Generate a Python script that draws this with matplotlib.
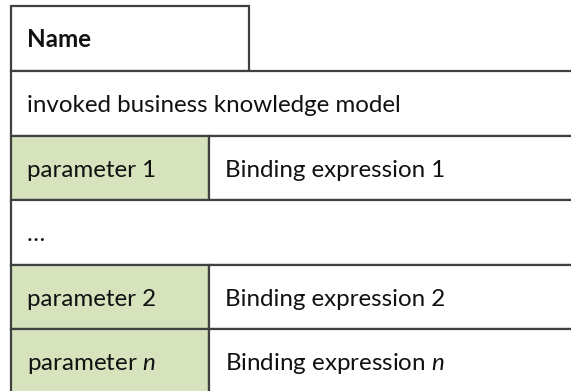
import matplotlib
matplotlib.use("Agg")
import matplotlib.pyplot as plt
from matplotlib.patches import Rectangle

header = "Name"
invoked = "invoked business knowledge model"
params = ["parameter 1", None, "parameter 2", "parameter $\\mathit{n}$"]
bindings = ["Binding expression 1", "…", "Binding expression 2", "Binding expression $\\mathit{n}$"]

plt.rcParams["mathtext.fontset"] = "custom"
plt.rcParams["mathtext.it"] = "Lato:italic"
plt.rcParams["mathtext.rm"] = "Lato"

W, H = 571, 391
fig = plt.figure(figsize=(W / 100, H / 100), dpi=100)
ax = fig.add_axes([0, 0, 1, 1])
ax.set_xlim(0, W)
ax.set_ylim(H, 0)
ax.axis("off")

green = "#D6E3BC"
lc = "#404040"
lw = 1.6
fam = "Lato"
fs = 17.4
tc = "#111111"

left, div, right = 11, 209, 575
rows = [6, 71, 136, 200, 265, 329, 394]
base = 41

# header box
ax.add_patch(Rectangle((left, rows[0]), 249 - left, rows[1] - rows[0], fc="white", ec=lc, lw=lw))
ax.text(27, rows[0] + base, header, fontsize=fs, fontweight="bold", family=fam, va="baseline", color=tc)
# invoked row
ax.add_patch(Rectangle((left, rows[1]), right - left, rows[2] - rows[1], fc="white", ec=lc, lw=lw))
ax.text(27, rows[1] + base, invoked, fontsize=fs, family=fam, va="baseline", color=tc)

for i, (p, b) in enumerate(zip(params, bindings)):
    y0, y1 = rows[i + 2], rows[i + 3]
    yb = y0 + base
    if p is None:
        ax.add_patch(Rectangle((left, y0), right - left, y1 - y0, fc="white", ec=lc, lw=lw))
        ax.text(27, yb, b, fontsize=fs, family=fam, va="baseline", color=tc)
    else:
        ax.add_patch(Rectangle((left, y0), div - left, y1 - y0, fc=green, ec=lc, lw=lw))
        ax.add_patch(Rectangle((div, y0), right - div, y1 - y0, fc="white", ec=lc, lw=lw))
        ax.text(27, yb, p, fontsize=fs, family=fam, va="baseline", color=tc)
        ax.text(225, yb, b, fontsize=fs, family=fam, va="baseline", color=tc)

fig.savefig("out.png", dpi=100)
